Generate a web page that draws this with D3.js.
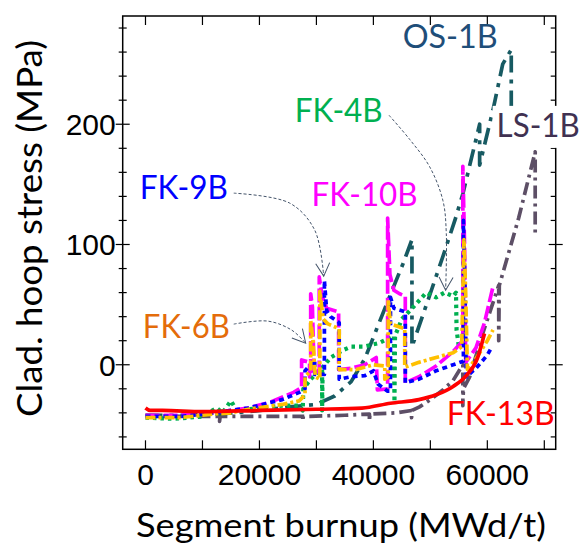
<!DOCTYPE html>
<html>
<head>
<meta charset="utf-8">
<script src="https://cdn.jsdelivr.net/npm/d3@7"></script>
<style>
  body { margin: 0; background: #fff; }
  svg { display: block; }
</style>
</head>
<body>
<div id="chart"></div>
<script>
// burnup (MWd/t) vs cladding hoop stress (MPa)
const fk13B = [[0,-36],[800,-38],[3000,-38],[10000,-39],[20000,-38],[30000,-37],[38000,-36],[43000,-32],[48000,-29],[51000,-25],[54000,-18],[56300,-9],[58300,6],[59500,26]];

const ls1B = [[0,-42],[6000,-43],[13000,-43],[13000,-47],[13100,-43],[20000,-43],[27600,-43],[27600,-47],[27700,-43],[35000,-42],[39300,-41],[39300,-47],[39400,-41],[44000,-40],[46700,-38],[46700,-44],[46800,-38],[48100,-35],[50000,-29],[52200,-21],[54000,-13],[55700,0],[55700,-34],[55800,-20],[56900,-10],[59200,26],[62000,66],[62000,20],[62100,66],[65500,122],[68400,177],[68400,106]];

const os1B = [[0,-42],[6000,-42],[12500,-41],[18000,-39],[22000,-37],[25300,-35],[30000,-33],[33200,-26],[36100,-14],[38500,5],[42700,55],[45200,84],[46770,104],[46770,15],[49900,58],[52200,90],[54300,120],[55700,142],[58650,200],[58650,166],[61000,212],[62700,250],[64200,262],[64200,214]];

const fk4B = [[0,-44],[5000,-45],[10000,-43],[12500,-36],[13500,-40],[15000,-30],[16000,-38],[20000,-36],[24000,-34],[27000,-34],[27600,-38],[27700,-20],[29000,-12],[30500,-5],[31000,-4],[31000,-38],[31100,-2],[32500,6],[34600,12],[36100,15],[38200,15],[41000,18],[43600,24],[43700,-31],[43800,24],[45000,38],[47000,48],[49300,60],[51000,56],[52500,60],[54000,57],[54500,60],[54600,29],[55000,15]];

const fk10B = [[0,-42],[6000,-42],[12000,-40],[18000,-36],[22000,-31],[26000,-23],[27400,-19],[27400,4],[28800,2],[28800,-10],[29000,-10],[29000,59],[29300,48],[29600,-8],[30500,-4],[30500,73],[31000,57],[31800,47],[33900,44],[33900,-4],[36000,-3],[38500,0],[40500,6],[40700,-21],[42500,-20],[42500,122],[42900,75],[43600,62],[44600,59],[45600,57],[45600,-15],[48000,-10],[51000,-1],[54000,11],[55700,20],[55700,165],[56000,100],[56200,2],[58000,14],[59500,35],[61000,65]];

const fk9B = [[0,-43],[6000,-43],[12000,-40],[18000,-36],[24000,-29],[27000,-23],[28000,-20],[28000,-5],[29700,4],[29700,-8],[31400,-8],[31400,70],[31800,45],[32500,40],[34000,35],[34000,-12],[36000,-10],[38500,-9],[40000,-5],[40800,-16],[42500,-22],[43000,-22],[43000,56],[43600,47],[45600,44],[45600,-15],[48000,-12],[51000,-5],[54000,0],[55800,3],[55800,120],[56100,60],[56300,-10],[58000,-3],[60000,8],[60800,15]];

const fk6B = [[0,-44],[6000,-44],[12000,-41],[15000,-40],[18000,-37],[24000,-33],[27000,-30],[28000,-25],[28000,-10],[29000,-5],[29000,37],[29400,20],[29800,-10],[30600,-12],[30600,61],[31200,38],[32000,34],[34000,30],[34000,-4],[37000,-4],[40000,0],[42000,-1],[42000,-12],[42600,-10],[42600,54],[43000,34],[45500,30],[45500,-2],[48000,2],[51000,6],[54000,10],[55500,15],[55900,104],[56200,60],[56500,-4],[58000,5],[60000,20],[61000,29]];

const xTickLabels = [0, 20000, 40000, 60000];
const yTickLabels = [0, 100, 200];

// drawing order, bottom first
const series = [
  { name: "LS-1B", data: ls1B, color: "#5d4f66", dash: "13,5,3,5" },
  { name: "OS-1B", data: os1B, color: "#175a62", dash: "17,7,4,7" },
  { name: "FK-4B", data: fk4B, color: "#00b050", dash: "3.5,4" },
  { name: "FK-10B", data: fk10B, color: "#ff00ff", dash: "14,4" },
  { name: "FK-9B", data: fk9B, color: "#0000ff", dash: "5,4" },
  { name: "FK-6B", data: fk6B, color: "#ffc000", dash: "10,3,3,3" },
  { name: "FK-13B", data: fk13B, color: "#ff0000", dash: null }
];

// series labels: left edge (burnup) and baseline (stress)
const labels = [
  { text: "OS-1B", x: 45140, y: 263.3, w: 95, color: "#1f4e79" },
  { text: "FK-4B", x: 26190, y: 201.7, w: 88, color: "#00b050" },
  { text: "FK-9B", x: -1000, y: 137.7, w: 88, color: "#0000ff" },
  { text: "FK-10B", x: 29160, y: 132.3, w: 106, color: "#ff00ff" },
  { text: "FK-6B", x: -470, y: 22.2, w: 87, color: "#e46c0a" },
  { text: "LS-1B", x: 61630, y: 189.5, w: 83, color: "#403151", box: true },
  { text: "FK-13B", x: 52860, y: -50.1, w: 108, color: "#ff0000" }
];

const arrows = [
  [[15490,142.7],[25320,134.4],[29700,112],[31280,73.7]],
  [[15490,33.8],[21460,36.3],[25670,28.8],[28120,18]],
  [[42740,207.5],[46370,187.4],[49880,164.6],[52210,136.4],[52800,109],[52680,62]]
];

const W = 583, H = 545;
const margin = { top: 16, left: 122.7, right: 583 - 555.7, bottom: 545 - 449.3 };
const iw = W - margin.left - margin.right,
      ih = H - margin.top - margin.bottom;

const x = d3.scaleLinear().domain([-4000, 72000]).range([0, iw]);
const y = d3.scaleLinear().domain([-70.3, 290]).range([ih, 0]);

const svg = d3.select("#chart").append("svg")
  .attr("width", W)
  .attr("height", H);

const g = svg.append("g")
  .attr("transform", `translate(${margin.left},${margin.top})`);

svg.append("defs").append("clipPath").attr("id", "clip")
  .append("rect").attr("width", iw).attr("height", ih);

const marker = svg.select("defs").append("marker")
  .attr("id", "arrowhead")
  .attr("viewBox", "-14 -8 16 16")
  .attr("refX", 0).attr("refY", 0)
  .attr("markerWidth", 16).attr("markerHeight", 16)
  .attr("markerUnits", "userSpaceOnUse")
  .attr("orient", "auto");
marker.append("path")
  .attr("d", "M-13,-7 L0,0 L-13,7")
  .attr("fill", "none")
  .attr("stroke", "#44546a")
  .attr("stroke-width", 1);

// frame
g.append("rect")
  .attr("width", iw).attr("height", ih)
  .attr("fill", "none").attr("stroke", "#000").attr("stroke-width", 1.5);

// ticks (inward / crossing)
const xMinor = d3.range(0, 72000, 10000);
g.selectAll(".xtb").data(xMinor).join("line")
  .attr("x1", d => x(d)).attr("x2", d => x(d))
  .attr("y1", ih).attr("y2", ih - 9)
  .attr("stroke", "#000").attr("stroke-width", 1.2);
g.selectAll(".xtt").data(xMinor).join("line")
  .attr("x1", d => x(d)).attr("x2", d => x(d))
  .attr("y1", 0).attr("y2", 9)
  .attr("stroke", "#000").attr("stroke-width", 1.2);

const yMinor = d3.range(-60, 290, 20);
g.selectAll(".ytl").data(yMinor).join("line")
  .attr("x1", d => d % 100 === 0 ? -7 : -4)
  .attr("x2", d => d % 100 === 0 ? 7 : 4)
  .attr("y1", d => y(d)).attr("y2", d => y(d))
  .attr("stroke", "#000").attr("stroke-width", 1.2);
g.selectAll(".ytr").data(yMinor).join("line")
  .attr("x1", d => iw - (d % 100 === 0 ? 7 : 5))
  .attr("x2", d => iw + (d % 100 === 0 ? 7 : 0))
  .attr("y1", d => y(d)).attr("y2", d => y(d))
  .attr("stroke", "#000").attr("stroke-width", 1.2);

// tick labels
g.selectAll(".xl").data(xTickLabels).join("text")
  .attr("x", d => x(d)).attr("y", ih + 36)
  .attr("text-anchor", "middle")
  .attr("font-family", "'Liberation Sans', Arial, sans-serif")
  .attr("font-size", 30)
  .text(d => d);
g.selectAll(".yl").data(yTickLabels).join("text")
  .attr("x", -7).attr("y", d => y(d) + 11)
  .attr("text-anchor", "end")
  .attr("font-family", "'Liberation Sans', Arial, sans-serif")
  .attr("font-size", 30)
  .text(d => d);

// axis titles
svg.append("text")
  .attr("x", 136).attr("y", 537)
  .attr("font-family", "Lato, 'Open Sans', sans-serif")
  .attr("font-size", 33)
  .attr("textLength", 410).attr("lengthAdjust", "spacingAndGlyphs")
  .text("Segment burnup (MWd/t)");
svg.append("text")
  .attr("transform", "translate(42,417) rotate(-90)")
  .attr("font-family", "Lato, 'Open Sans', sans-serif")
  .attr("font-size", 34)
  .attr("textLength", 377).attr("lengthAdjust", "spacingAndGlyphs")
  .text("Clad. hoop stress (MPa)");

// series
const line = d3.line().x(d => x(d[0])).y(d => y(d[1]));
const smooth = d3.line().x(d => x(d[0])).y(d => y(d[1])).curve(d3.curveMonotoneX);

const plot = g.append("g").attr("clip-path", "url(#clip)");
plot.selectAll(".series").data(series).join("path")
  .attr("class", "series")
  .attr("d", d => d.dash ? line(d.data) : smooth(d.data))
  .attr("fill", "none")
  .attr("stroke", d => d.color)
  .attr("stroke-width", d => d.name === "FK-4B" ? 4.2 : 3.7)
  .attr("stroke-dasharray", d => d.dash)
  .attr("stroke-linejoin", "round");

// annotation arrows
const arrowLine = d3.line().x(d => x(d[0])).y(d => y(d[1])).curve(d3.curveCatmullRom);
g.selectAll(".arrow").data(arrows).join("path")
  .attr("d", arrowLine)
  .attr("fill", "none")
  .attr("stroke", "#44546a")
  .attr("stroke-width", 1)
  .attr("stroke-dasharray", "3,2")
  .attr("marker-end", "url(#arrowhead)");

// labels
const lab = g.selectAll(".lab").data(labels).join("g");
lab.filter(d => d.box).append("rect")
  .attr("x", d => x(d.x) - 4).attr("y", d => y(d.y) - 31)
  .attr("width", d => d.w + 10).attr("height", 42)
  .attr("fill", "#fff");
lab.append("text")
  .attr("x", d => x(d.x)).attr("y", d => y(d.y))
  .attr("font-family", "Lato, 'Open Sans', sans-serif")
  .attr("font-size", 32)
  .attr("fill", d => d.color)
  .attr("textLength", d => d.w).attr("lengthAdjust", "spacingAndGlyphs")
  .text(d => d.text);
</script>
</body>
</html>
